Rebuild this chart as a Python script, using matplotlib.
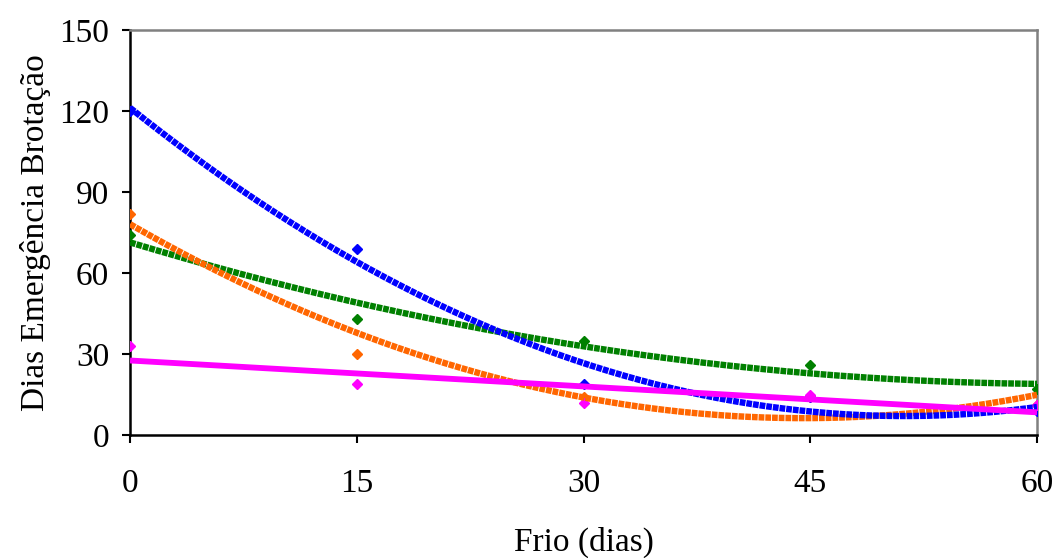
import numpy as np
import matplotlib.pyplot as plt

# Frio (dias) vs dias ate emergencia da brotacao
frio = [0, 15, 30, 45, 60]
azul = [120, 69, 19, 14, 9]
laranja = [82, 30, 14, 14, 11]
verde = [74, 43, 35, 26, 17]
rosa = [33, 19, 12, 15, 11]

# (valores, cor, grau da linha de tendencia, zorder)
series = [
    (verde, "#008000", 2, 3),
    (laranja, "#FF6600", 2, 4),
    (azul, "#0000FF", 2, 5),
    (rosa, "#FF00FF", 1, 6),
]

plt.rcParams["font.family"] = ["Liberation Serif", "DejaVu Serif"]

fig = plt.figure(figsize=(10.53, 5.58), dpi=100)
ax = fig.add_axes([0.1235, 0.2204, 0.8613, 0.7258])

xs = np.linspace(0, 60, 400)
for vals, cor, grau, z in series:
    ax.plot(frio, vals, ls="none", marker="D", ms=5.5, color=cor, zorder=z)
    coef = np.polyfit(frio, vals, grau)
    if grau == 1:
        ax.plot(xs, np.polyval(coef, xs), color=cor, lw=4.2, zorder=z + 4,
                solid_capstyle="butt")
    else:
        ax.plot(xs, np.polyval(coef, xs), color=cor, lw=4.6, zorder=z + 4,
                ls=(0, (0.9, 0.15)), dash_capstyle="butt")

ax.set_xlim(0, 60)
ax.set_ylim(0, 150)
ax.set_xticks([0, 15, 30, 45, 60])
ax.set_yticks([0, 30, 60, 90, 120, 150])
ax.tick_params(direction="out", length=6, width=1.5, labelsize=24)
ax.tick_params(axis="x", pad=18)
ax.tick_params(axis="y", pad=9)

for s in ["left", "bottom"]:
    ax.spines[s].set_linewidth(1.8)
    ax.spines[s].set_color("black")
for s in ["right", "top"]:
    ax.spines[s].set_linewidth(1.8)
    ax.spines[s].set_color("#808080")

ax.set_xlabel("Frio (dias)", fontsize=24, labelpad=20)
ax.set_ylabel("Dias Emergência Brotação", fontsize=24, labelpad=6)

fig.savefig("out.png", dpi=100)
